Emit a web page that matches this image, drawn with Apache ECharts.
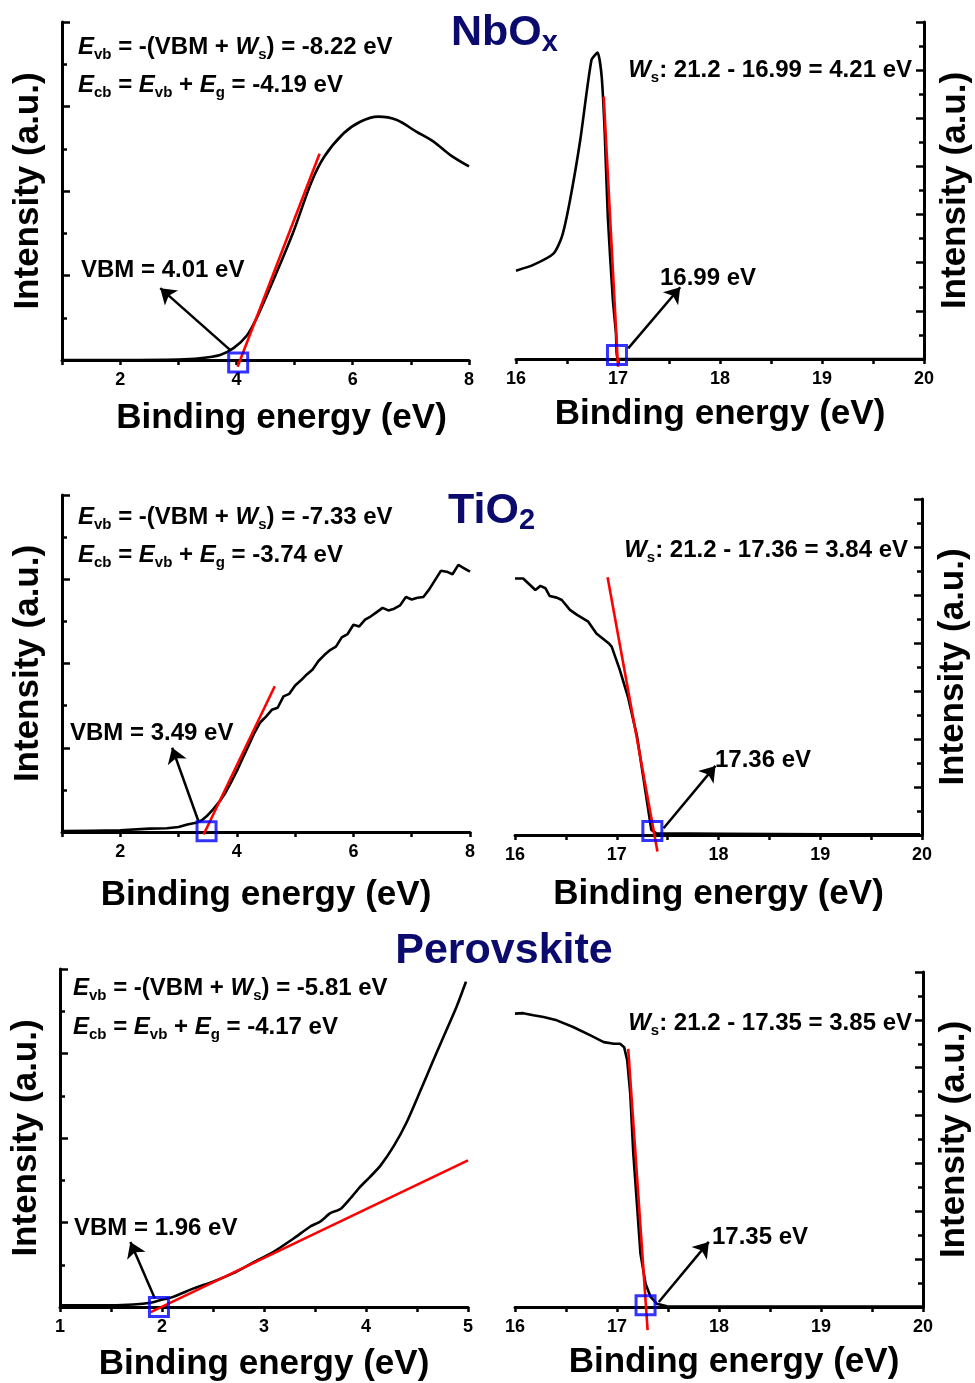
<!DOCTYPE html>
<html>
<head>
<meta charset="utf-8">
<script src="https://cdn.jsdelivr.net/npm/echarts@6/dist/echarts.min.js"></script>
<style>
  html, body { margin: 0; padding: 0; background: #fff; }
  #chart { width: 975px; height: 1383px; }
</style>
</head>
<body>
<div id="chart"></div>
<script>
// ---- NbOx ----
const nbVbX = [1.0, 2.0, 3.0, 3.37, 3.72, 3.95, 4.18, 4.35, 4.61, 4.97, 5.28, 5.51, 5.84, 6.13, 6.44, 6.76, 7.10, 7.39, 7.68, 8.0]
const nbVbY = [0.0, 0.0, 0.01, 0.04, 0.12, 0.28, 0.58, 1.0, 1.81, 3.0, 4.18, 4.81, 5.36, 5.64, 5.76, 5.68, 5.40, 5.17, 4.85, 4.58]
const nbVbFit = [[4.02, -0.16], [5.43, 4.88]]
const nbVbMark = [4.03, -0.06]
const nbVbArrow = [[3.89, 0.24], [2.69, 1.70]]

const nbCoX = [16.0, 16.17, 16.37, 16.45, 16.53, 16.63, 16.74, 16.80, 16.84, 16.87, 16.90, 16.95, 16.98, 17.0, 18.0, 19.0, 20.0]
const nbCoY = [3.67, 3.91, 4.39, 5.08, 6.61, 9.10, 12.42, 12.73, 11.73, 9.38, 5.91, 2.45, 1.07, 0.0, 0.0, 0.0, 0.0]
const nbCoFit = [[16.86, 10.9], [17.0, -0.32]]
const nbCoMark = [16.99, 0.17]
const nbCoArrow = [[17.10, 0.44], [17.61, 2.98]]

// ---- TiO2 ----
const tiVbX = [1.0, 1.5, 2.0, 2.5, 2.8, 3.0, 3.15, 3.3, 3.4, 3.5, 3.6, 3.7, 3.8, 3.9, 4.0, 4.1, 4.2, 4.3, 4.4, 4.5,
  4.6, 4.7, 4.8, 4.9, 5.0, 5.1, 5.2, 5.3, 5.4, 5.5, 5.6, 5.7, 5.8, 5.9, 6.0, 6.1, 6.2, 6.3, 6.4, 6.5,
  6.6, 6.7, 6.8, 6.9, 7.0, 7.1, 7.2, 7.3, 7.4, 7.5, 7.6, 7.7, 7.8, 7.9, 8.0]
const tiVbY = [0.02, 0.03, 0.04, 0.08, 0.09, 0.12, 0.18, 0.22, 0.28, 0.40, 0.55, 0.72, 0.92, 1.18, 1.45, 1.75, 2.05, 2.35, 2.60, 2.74,
  2.90, 2.95, 3.22, 3.28, 3.48, 3.60, 3.74, 3.86, 4.06, 4.20, 4.32, 4.40, 4.62, 4.70, 4.92, 4.88, 5.04, 5.12, 5.22, 5.32,
  5.26, 5.30, 5.38, 5.58, 5.52, 5.56, 5.58, 5.76, 5.98, 6.20, 6.18, 6.12, 6.34, 6.26, 6.18]
const tiVbFit = [[3.43, -0.06], [4.65, 3.46]]
const tiVbMark = [3.48, 0.02]
const tiVbArrow = [[3.35, 0.22], [2.89, 2.0]]

const tiCoX = [16.0, 16.08, 16.13, 16.20, 16.25, 16.30, 16.34, 16.41, 16.46, 16.54, 16.61, 16.72, 16.80, 16.92, 16.95,
  17.03, 17.11, 17.20, 17.26, 17.31, 17.34, 17.39, 18.05, 19.03, 19.98]
const tiCoY = [10.69, 10.69, 10.49, 10.21, 10.38, 10.28, 9.96, 9.89, 9.79, 9.38, 9.17, 8.89, 8.40, 7.99, 7.85,
  6.88, 5.76, 4.10, 2.43, 1.04, 0.21, 0.07, 0.05, 0.03, 0.03]
const tiCoFit = [[16.91, 10.74], [17.40, -0.69]]
const tiCoMark = [17.35, 0.17]
const tiCoArrow = [[17.46, 0.28], [17.97, 2.88]]

// ---- Perovskite ----
const peVbX = [1.0, 1.39, 1.72, 1.89, 1.98, 2.11, 2.31, 2.50, 2.70, 2.90, 3.09, 3.29, 3.45, 3.55, 3.65, 3.75, 3.85,
  3.94, 4.04, 4.14, 4.27, 4.40, 4.53, 4.66, 4.79, 4.89, 4.98]
const peVbY = [0.04, 0.04, 0.06, 0.10, 0.16, 0.24, 0.44, 0.60, 0.80, 1.06, 1.30, 1.62, 1.90, 2.02, 2.22, 2.32, 2.58,
  2.84, 3.08, 3.34, 3.80, 4.38, 5.10, 5.84, 6.56, 7.12, 7.70]
const peVbFit = [[1.89, -0.12], [5.0, 3.47]]
const peVbMark = [1.97, 0.0]
const peVbArrow = [[1.93, 0.20], [1.69, 1.54]]

const peCoX = [16.0, 16.08, 16.18, 16.28, 16.41, 16.57, 16.74, 16.87, 16.97, 17.03, 17.07, 17.10, 17.13, 17.16,
  17.20, 17.23, 17.28, 17.33, 17.39, 17.49, 18.5, 20.0]
const peCoY = [12.26, 12.28, 12.19, 12.12, 11.98, 11.70, 11.35, 11.07, 11.00, 11.00, 10.86, 10.31, 8.91, 6.41,
  4.04, 2.23, 0.97, 0.42, 0.14, 0.03, 0.02, 0.02]
const peCoFit = [[17.11, 10.79], [17.30, -0.97]]
const peCoMark = [17.28, 0.07]
const peCoArrow = [[17.41, 0.21], [17.90, 2.72]]

// tick labels
const vbTicksWide = [2, 4, 6, 8]
const vbTicksNarrow = [1, 2, 3, 4, 5]
const coTicks = [16, 17, 18, 19, 20]

const FONT = '"Liberation Sans", Arial, sans-serif'
const NAVY = '#0b0b6e'

// shift: horizontal nudge of the x title (px of left padding)
const panels = [
  { grid: { left: 62, top: 22, width: 407, height: 338 }, side: 'left', xMin: 1, xMax: 8, xInt: 1, yMax: 8, xGap: 41, shift: 32,
    x: nbVbX, y: nbVbY, fit: nbVbFit, mark: nbVbMark, arrow: nbVbArrow, ticks: vbTicksWide, smooth: 0.3 },
  { grid: { left: 516, top: 22, width: 408, height: 337 }, side: 'right', xMin: 16, xMax: 20, xInt: 0.5, yMax: 14, xGap: 38, shift: 0,
    x: nbCoX, y: nbCoY, fit: nbCoFit, mark: nbCoMark, arrow: nbCoArrow, ticks: coTicks, smooth: 0.2 },
  { grid: { left: 62, top: 495, width: 408, height: 337 }, side: 'left', xMin: 1, xMax: 8, xInt: 1, yMax: 8, xGap: 46, shift: 0,
    x: tiVbX, y: tiVbY, fit: tiVbFit, mark: tiVbMark, arrow: tiVbArrow, ticks: vbTicksWide, smooth: false },
  { grid: { left: 515, top: 499, width: 407, height: 336 }, side: 'right', xMin: 16, xMax: 20, xInt: 0.5, yMax: 14, xGap: 42, shift: 0,
    x: tiCoX, y: tiCoY, fit: tiCoFit, mark: tiCoMark, arrow: tiCoArrow, ticks: coTicks, smooth: false },
  { grid: { left: 60, top: 969, width: 408, height: 338 }, side: 'left', xMin: 1, xMax: 5, xInt: 0.5, yMax: 8, xGap: 40, shift: 0,
    x: peVbX, y: peVbY, fit: peVbFit, mark: peVbMark, arrow: peVbArrow, ticks: vbTicksNarrow, smooth: 0.2 },
  { grid: { left: 515, top: 972, width: 408, height: 335 }, side: 'right', xMin: 16, xMax: 20, xInt: 0.5, yMax: 14, xGap: 38, shift: 30,
    x: peCoX, y: peCoY, fit: peCoFit, mark: peCoMark, arrow: peCoArrow, ticks: coTicks, smooth: false },
]

const black = '#000'
const axisFont = { fontFamily: FONT, fontWeight: 'bold', color: black }

const option = { animation: false, grid: [], xAxis: [], yAxis: [], series: [], graphic: [] }

panels.forEach((p, i) => {
  option.grid.push(p.grid)
  option.xAxis.push({
    gridIndex: i, type: 'value', min: p.xMin, max: p.xMax, interval: p.xInt,
    name: 'Binding energy (eV)', nameLocation: 'middle', nameGap: p.xGap,
    nameTextStyle: { ...axisFont, fontSize: 35, padding: [0, 0, 0, p.shift] },
    axisLine: { onZero: false, lineStyle: { color: black, width: 3 } },
    axisTick: { length: 5, lineStyle: { color: black, width: 2.5 } },
    axisLabel: { ...axisFont, fontSize: 18, margin: 11, formatter: v => p.ticks.includes(v) ? String(v) : '' },
    splitLine: { show: false }
  })
  option.yAxis.push({
    gridIndex: i, type: 'value', position: p.side, min: 0, max: p.yMax, interval: 2,
    name: 'Intensity (a.u.)', nameLocation: 'middle', nameRotate: 90, nameGap: p.side === 'left' ? 16 : 14,
    nameTextStyle: { ...axisFont, fontSize: 35 },
    axisLine: { show: true, onZero: false, lineStyle: { color: black, width: 3 } },
    axisTick: { inside: true, length: 8, lineStyle: { color: black, width: 2.5 } },
    minorTick: { show: true, splitNumber: 2, length: 5, lineStyle: { color: black, width: 2.5 } },
    axisLabel: { show: false },
    splitLine: { show: false }, minorSplitLine: { show: false }
  })
  option.series.push({
    type: 'line', xAxisIndex: i, yAxisIndex: i, z: 3,
    data: p.x.map((v, k) => [v, p.y[k]]),
    showSymbol: false, smooth: p.smooth,
    lineStyle: { color: black, width: 2.6 }
  })
  option.series.push({
    type: 'line', xAxisIndex: i, yAxisIndex: i, z: 4, clip: false,
    data: p.fit, showSymbol: false,
    lineStyle: { color: '#ff0000', width: 2.6 }
  })
  option.series.push({
    type: 'scatter', xAxisIndex: i, yAxisIndex: i, z: 5, clip: false,
    data: [p.mark], symbol: 'rect', symbolSize: 19,
    itemStyle: { color: 'rgba(0,0,0,0)', borderColor: '#0000ff', borderWidth: 3 },
    markLine: {
      silent: true, symbol: ['none', 'arrow'], symbolSize: 15,
      label: { show: false },
      lineStyle: { color: black, width: 2.5, type: 'solid' },
      data: [[{ coord: p.arrow[0] }, { coord: p.arrow[1] }]]
    }
  })
})

// annotation text
const rich = {
  n: { fontFamily: FONT, fontWeight: 'bold', fontSize: 24, fill: black },
  i: { fontFamily: FONT, fontWeight: 'bold', fontStyle: 'italic', fontSize: 24, fill: black },
  s: { fontFamily: FONT, fontWeight: 'bold', fontSize: 15, fill: black, padding: [16, 0, 0, 0] },
  t: { fontFamily: FONT, fontWeight: 'bold', fontSize: 43, fill: NAVY },
  ts: { fontFamily: FONT, fontWeight: 'bold', fontSize: 29, fill: NAVY, padding: [20, 0, 0, 0] }
}
const txt = (x, y, text, align) => ({
  type: 'text', x, y, z: 10,
  style: { text, rich, align: align || 'left', verticalAlign: 'middle' }
})
const evb = v => `{i|E}{s|vb}{n| = -(VBM + }{i|W}{s|s}{n|) = ${v} eV}`
const ecb = v => `{i|E}{s|cb}{n| = }{i|E}{s|vb}{n| + }{i|E}{s|g}{n| = ${v} eV}`
const ws = (c, v) => `{i|W}{s|s}{n|: 21.2 - ${c} = ${v} eV}`

option.graphic = [
  txt(451, 33, '{t|NbO}{ts|x}'),
  txt(78, 47, evb('-8.22')), txt(78, 85, ecb('-4.19')),
  txt(81, 270, '{n|VBM = 4.01 eV}'),
  txt(912, 70, ws('16.99', '4.21'), 'right'),
  txt(660, 278, '{n|16.99 eV}'),

  txt(448, 511, '{t|TiO}{ts|2}'),
  txt(78, 517, evb('-7.33')), txt(78, 555, ecb('-3.74')),
  txt(70, 733, '{n|VBM = 3.49 eV}'),
  txt(908, 550, ws('17.36', '3.84'), 'right'),
  txt(715, 760, '{n|17.36 eV}'),

  txt(504, 951, '{t|Perovskite}', 'center'),
  txt(73, 988, evb('-5.81')), txt(73, 1027, ecb('-4.17')),
  txt(74, 1228, '{n|VBM = 1.96 eV}'),
  txt(912, 1023, ws('17.35', '3.85'), 'right'),
  txt(712, 1237, '{n|17.35 eV}')
]

const chart = echarts.init(document.getElementById('chart'))
chart.setOption(option)
</script>
</body>
</html>
